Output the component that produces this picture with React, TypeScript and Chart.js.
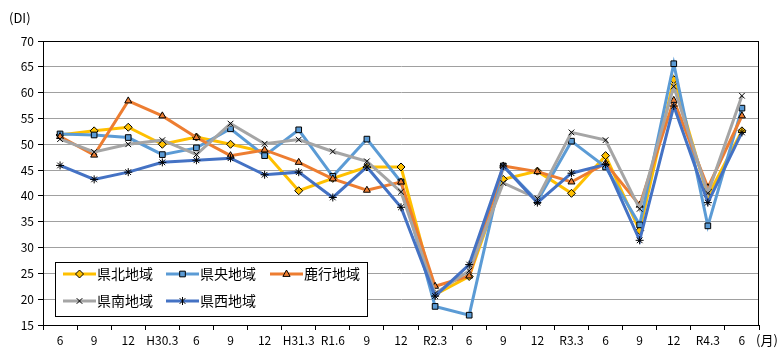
import React, { useEffect, useRef } from "react";
import { Chart, registerables } from "chart.js";

Chart.register(...registerables);

const categories = ["6", "9", "12", "H30.3", "6", "9", "12", "H31.3", "R1.6", "9", "12", "R2.3", "6", "9", "12", "R3.3", "6", "9", "12", "R4.3", "6"];
const yTicks = [15, 20, 25, 30, 35, 40, 45, 50, 55, 60, 65, 70];

const kenpoku = [51.8, 52.6, 53.3, 50.0, 51.4, 50.0, 48.5, 41.0, 43.4, 45.6, 45.6, 20.9, 24.4, 43.2, 44.8, 40.5, 47.8, 33.3, 62.5, 40.0, 52.6];
const kenou = [52.0, 51.8, 51.3, 48.0, 49.3, 53.0, 47.8, 52.8, 43.8, 51.0, 42.7, 18.6, 16.9, 45.8, 39.0, 50.6, 45.6, 34.4, 65.6, 34.2, 57.0];
const rokko = [51.5, 47.9, 58.4, 55.5, 51.3, 47.8, 48.9, 46.5, 43.3, 41.1, 42.7, 22.5, 24.5, 45.8, 44.7, 42.7, 46.3, 38.2, 58.5, 41.6, 55.5];
const kennan = [51.0, 48.5, 50.0, 50.8, 48.0, 54.0, 50.1, 50.9, 48.6, 46.7, 40.8, 21.1, 25.5, 42.5, 39.5, 52.3, 50.8, 37.5, 61.2, 40.5, 59.4];
const kensei = [45.9, 43.2, 44.6, 46.5, 46.9, 47.3, 44.1, 44.6, 39.7, 45.6, 37.8, 20.6, 26.7, 45.8, 38.7, 44.4, 46.1, 31.4, 57.4, 38.7, 52.3];

const seriesNames = ["県北地域", "県央地域", "鹿行地域", "県南地域", "県西地域"];
const seriesColors = ["#FFC000", "#5B9BD5", "#ED7D31", "#A5A5A5", "#4472C4"];
const seriesMarkers = ["rectRot", "rect", "triangle", "crossRot", "star"];
const seriesData = [kenpoku, kenou, rokko, kennan, kensei];

const FONT = "'Noto Sans CJK JP', 'Noto Sans', sans-serif";

function drawMarker(ctx: CanvasRenderingContext2D, style: string, x: number, y: number, r: number, fill: string) {
  ctx.save();
  ctx.beginPath();
  ctx.fillStyle = fill;
  ctx.strokeStyle = "#000";
  ctx.lineWidth = 1;
  if (style === "rectRot") {
    ctx.moveTo(x, y - r);
    ctx.lineTo(x + r, y);
    ctx.lineTo(x, y + r);
    ctx.lineTo(x - r, y);
    ctx.closePath();
    ctx.fill();
    ctx.stroke();
  } else if (style === "rect") {
    const s = r * Math.SQRT1_2;
    ctx.rect(x - s, y - s, 2 * s, 2 * s);
    ctx.fill();
    ctx.stroke();
  } else if (style === "triangle") {
    ctx.moveTo(x, y - r);
    ctx.lineTo(x + r * 0.9, y + r * 0.6);
    ctx.lineTo(x - r * 0.9, y + r * 0.6);
    ctx.closePath();
    ctx.fill();
    ctx.stroke();
  } else if (style === "crossRot") {
    const s = r * Math.SQRT1_2;
    ctx.moveTo(x - s, y - s);
    ctx.lineTo(x + s, y + s);
    ctx.moveTo(x + s, y - s);
    ctx.lineTo(x - s, y + s);
    ctx.stroke();
  } else if (style === "star") {
    const s = r * Math.SQRT1_2;
    ctx.moveTo(x - s, y - s);
    ctx.lineTo(x + s, y + s);
    ctx.moveTo(x + s, y - s);
    ctx.lineTo(x - s, y + s);
    ctx.moveTo(x, y - r);
    ctx.lineTo(x, y + r);
    ctx.stroke();
  }
  ctx.restore();
}

const overlayPlugin = {
  id: "overlay",
  afterDraw(chart: any) {
    const ctx: CanvasRenderingContext2D = chart.ctx;
    const a = chart.chartArea;
    ctx.save();
    // plot border
    ctx.strokeStyle = "#000";
    ctx.lineWidth = 1;
    ctx.strokeRect(Math.round(a.left) + 0.5, Math.round(a.top) + 0.5, Math.round(a.right - a.left) - 1, Math.round(a.bottom - a.top));
    // axis titles
    ctx.fillStyle = "#000";
    ctx.font = `13px ${FONT}`;
    ctx.textBaseline = "middle";
    ctx.textAlign = "left";
    ctx.fillText("(DI)", 9, 18);
    ctx.fillText("(月)", 756, 340);
    // legend
    const lx = 55, ly = 262, lw = 312, lh = 54;
    ctx.fillStyle = "#fff";
    ctx.fillRect(lx, ly, lw, lh);
    ctx.strokeStyle = "#000";
    ctx.lineWidth = 1;
    ctx.strokeRect(lx + 0.5, ly + 0.5, lw, lh);
    const cols = [63, 166, 270];
    const rows = [274, 301];
    for (let i = 0; i < seriesNames.length; i++) {
      const cx = cols[i % 3];
      const cy = rows[Math.floor(i / 3)];
      ctx.strokeStyle = seriesColors[i];
      ctx.lineWidth = 3;
      ctx.beginPath();
      ctx.moveTo(cx, cy);
      ctx.lineTo(cx + 33, cy);
      ctx.stroke();
      drawMarker(ctx, seriesMarkers[i], cx + 16.5, cy, 4, seriesColors[i]);
      ctx.fillStyle = "#000";
      ctx.font = `14px ${FONT}`;
      ctx.textAlign = "left";
      ctx.textBaseline = "middle";
      ctx.fillText(seriesNames[i], cx + 34, cy);
    }
    ctx.restore();
  },
};

export default function App() {
  const ref = useRef<HTMLCanvasElement>(null);
  useEffect(() => {
    document.body.style.margin = "0";
    const chart = new Chart(ref.current as HTMLCanvasElement, {
      type: "line",
      data: {
        labels: categories,
        datasets: seriesData.map((d, i) => ({
          label: seriesNames[i],
          data: d,
          borderColor: seriesColors[i],
          backgroundColor: seriesColors[i],
          borderWidth: 3,
          tension: 0,
          pointStyle: seriesMarkers[i] as any,
          pointRadius: 4,
          pointBorderColor: "#000",
          pointBorderWidth: 1,
          pointBackgroundColor: seriesColors[i],
          order: 4 - i,
        })),
      },
      options: {
        animation: false,
        responsive: false,
        layout: { padding: { top: 41, right: 22, left: 0, bottom: 0 } },
        plugins: { legend: { display: false }, tooltip: { enabled: false } },
        scales: {
          x: {
            offset: true,
            grid: { display: true, drawOnChartArea: false, offset: true, tickLength: 5, color: "#000", tickColor: "#000" },
            border: { color: "#000", width: 1 },
            ticks: { color: "#000", font: { size: 12, family: FONT }, maxRotation: 0, autoSkip: false, padding: 3 },
            afterFit: (s: any) => { s.height = 37; },
          },
          y: {
            min: 15,
            max: 70,
            afterBuildTicks: (s: any) => { s.ticks = yTicks.map((v) => ({ value: v })); },
            grid: { color: "#A0A0A0", tickColor: "#000", tickLength: 5 },
            border: { color: "#000", width: 1 },
            ticks: { color: "#000", font: { size: 12, family: FONT }, padding: 4 },
            afterFit: (s: any) => { s.width = 43; },
          },
        },
      },
      plugins: [overlayPlugin],
    });
    return () => chart.destroy();
  }, []);
  return (
    <div style={{ width: 781, height: 362, background: "#fff" }}>
      <canvas ref={ref} width={781} height={362} style={{ display: "block" }} />
    </div>
  );
}
